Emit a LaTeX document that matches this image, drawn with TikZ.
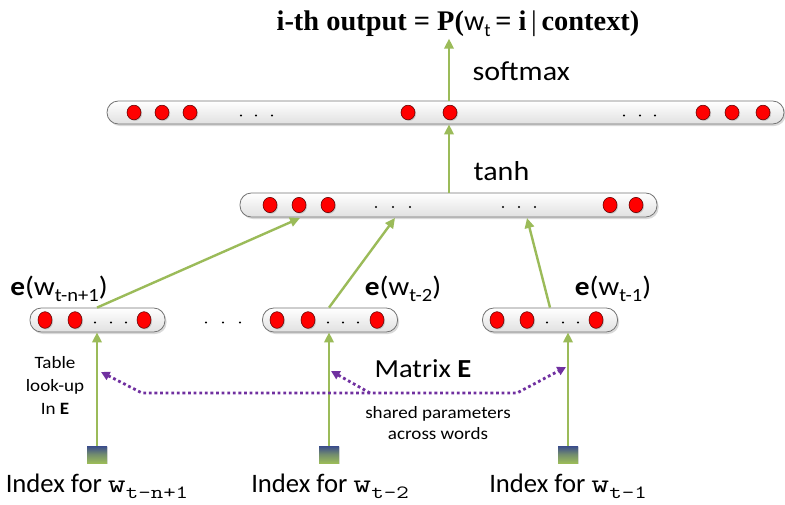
\documentclass[tikz,border=0pt]{standalone}
\usepackage{fontspec}
\usepackage{graphicx}
\setmainfont{Carlito}
\newfontfamily\wfont[FakeStretch=1.1]{Carlito}
\newfontfamily\tfont{Liberation Serif}
\usetikzlibrary{arrows.meta,shadows,shapes.geometric}
\definecolor{ogreen}{RGB}{155,187,89}
\definecolor{purp}{RGB}{112,48,160}
\definecolor{sqblue}{RGB}{58,76,140}
\newcommand\mysub[2]{\raisebox{-0.22em}{\fontsize{#1}{#1}\selectfont #2}}
\tikzset{
  bar/.style={draw=black!55, line width=0.6pt, rounded corners=8.5pt,
    top color=white, bottom color=black!12, inner sep=0pt,
    drop shadow={opacity=0.3, shadow xshift=1.2pt, shadow yshift=-1.5pt}},
  rdot/.style={ellipse, draw=red!35!black, line width=0.4pt, fill=red,
    minimum width=10.5pt, minimum height=11.5pt, inner sep=0pt,
    drop shadow={opacity=0.35, shadow xshift=0.8pt, shadow yshift=-0.8pt}},
  sq/.style={rectangle, minimum width=15pt, minimum height=12.75pt, inner sep=0pt,
    top color=sqblue, bottom color=ogreen, middle color=ogreen!60!sqblue,
    drop shadow={opacity=0.25, shadow xshift=1pt, shadow yshift=-1pt}},
  garrow/.style={draw=ogreen, line width=1.8pt, -{Triangle[length=7.5pt,width=7pt]}},
  parrow/.style={draw=purp, line width=2.1pt, dash pattern=on 2.1pt off 2.1pt},
  lab/.style={inner sep=1pt},
}
\begin{document}
\begin{tikzpicture}[x=0.75pt,y=-0.75pt]
\useasboundingbox (0,0) rectangle (785,504);
% bars
\node[bar, minimum width=507.75pt, minimum height=17.25pt] (topbar) at (445.5,112.5) {};
\node[bar, minimum width=312.75pt, minimum height=18pt] (mid) at (448.5,205) {};
\node[bar, minimum width=101.25pt, minimum height=18pt] (bar1) at (97.5,320) {};
\node[bar, minimum width=101.25pt, minimum height=18pt] (bar2) at (330,320) {};
\node[bar, minimum width=101.25pt, minimum height=18pt] (bar3) at (550,320) {};
% red dots
\foreach \x [count=\i] in {134,162,190,408,450,703,732,763}
  \node[rdot, minimum height=11pt] (td\i) at (\x,112.5) {};
\foreach \x [count=\i] in {270,299,328,610,636}
  \node[rdot] (md\i) at (\x,205) {};
\foreach \x [count=\i] in {45,75,144}
  \node[rdot, minimum height=12.5pt] (ad\i) at (\x,320) {};
\foreach \x [count=\i] in {277,308,377}
  \node[rdot, minimum height=12.5pt] (bd\i) at (\x,320) {};
\foreach \x [count=\i] in {497,527,596}
  \node[rdot, minimum height=12.5pt] (cd\i) at (\x,320) {};
% small dots
\foreach \x in {241,256,272,624,640,655} \fill (\x,115.5) circle (0.8pt);
\foreach \x in {376,393,410,503,519,535} \fill (\x,207) circle (0.8pt);
\foreach \x in {95,111,126,328,343,358,547,563,578} \fill (\x,322.5) circle (0.8pt);
\foreach \x in {206,223,240} \fill (\x,322.5) circle (0.8pt);
% squares
\node[sq] (sq1) at (97,454.5) {};
\node[sq] (sq2) at (329,454.5) {};
\node[sq] (sq3) at (568,454.5) {};
% labels
\node[lab, font=\tfont\bfseries\fontsize{21.3pt}{24pt}\selectfont] (title) at (458,24)
  {i-th output = P({\mdseries\rmfamily\fontsize{21.3pt}{24pt}\selectfont w\mysub{14pt}{t}}\,= i\,{\mdseries|}\,context)};
\node[lab, anchor=west, font=\wfont\fontsize{20.5pt}{22pt}\selectfont] (smx) at (471,71) {softmax};
\node[lab, anchor=west, font=\wfont\fontsize{20.5pt}{22pt}\selectfont] (tanh) at (472,171) {tanh};
\node[lab, font=\wfont\fontsize{20pt}{22pt}\selectfont] (e1) at (59,289) {\textbf{e}(w\mysub{14pt}{t-n+1})};
\node[lab, font=\wfont\fontsize{20pt}{22pt}\selectfont] (e2) at (403,289) {\textbf{e}(w\mysub{14pt}{t-2})};
\node[lab, font=\wfont\fontsize{20pt}{22pt}\selectfont] (e3) at (613,289) {\textbf{e}(w\mysub{14pt}{t-1})};
\node[lab, font=\wfont\fontsize{19.5pt}{22pt}\selectfont] (mat) at (423,369) {Matrix \textbf{E}};
\node[lab, align=center, font=\wfont\fontsize{13pt}{15.75pt}\selectfont] (shared) at (438,423) {shared parameters\\across words};
\node[lab, align=center, font=\wfont\fontsize{13pt}{17.25pt}\selectfont] (table) at (55,385) {Table\\look-up\\In \textbf{E}};
\node[lab, font=\fontsize{20pt}{24pt}\selectfont] (i1) at (97,486) {Index for \scalebox{1.3}[1]{\ttfamily w\mysub{14pt}{t-n+1}}};
\node[lab, font=\fontsize{20pt}{24pt}\selectfont] (i2) at (330,486) {Index for \scalebox{1.3}[1]{\ttfamily w\mysub{14pt}{t-2}}};
\node[lab, font=\fontsize{20pt}{24pt}\selectfont] (i3) at (568,486) {Index for \scalebox{1.3}[1]{\ttfamily w\mysub{14pt}{t-1}}};
% green arrows
\coordinate (cx) at (449,0);
\coordinate (m1) at (300,218);
\coordinate (m2) at (395,218);
\coordinate (m3) at (527,218);
\draw[garrow] (sq1.north) -- (sq1.north |- bar1.south);
\draw[garrow] (sq2.north) -- (sq2.north |- bar2.south);
\draw[garrow] (sq3.north) -- (sq3.north |- bar3.south);
\draw[garrow] (bar1.north -| sq1.north) -- (m1);
\draw[garrow] (bar2.north -| sq2.north) -- (m2);
\draw[garrow] (bar3.north) -- (m3);
\draw[garrow] (mid.north -| cx) -- (topbar.south -| cx);
\draw[garrow] (topbar.north -| cx) -- (title.south -| cx);
% purple shared-parameter arrows
\coordinate (pt1) at (101,372);
\coordinate (pt2) at (331,371);
\coordinate (pt3) at (566,367);
\coordinate (pl) at (142,393);
\coordinate (pr) at (517,393);
\coordinate (pm) at (370,393);
\draw[parrow, {Triangle[length=6.5pt,width=6.5pt]}-{Triangle[length=6.5pt,width=6.5pt]}] (pt1) -- (pl) -- (pr) -- (pt3);
\draw[parrow, -{Triangle[length=6.5pt,width=6.5pt]}] (pm) -- (pt2);
\end{tikzpicture}
\end{document}
